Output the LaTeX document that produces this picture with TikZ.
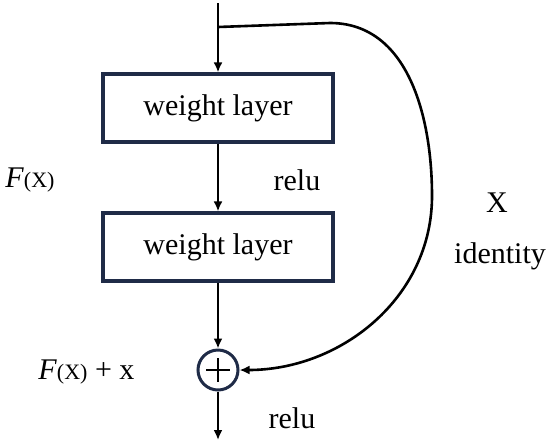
\documentclass[tikz,border=0pt]{standalone}
\usepackage{fontspec}
\setmainfont{Liberation Serif}
\usetikzlibrary{positioning,arrows.meta,calc}

\definecolor{navy}{HTML}{1F2B47}

\begin{document}
\begin{tikzpicture}[
  x=0.5pt, y=-0.5pt,
  >={Latex[length=5pt,width=4.5pt]},
  font=\fontsize{15}{18}\selectfont,
  layer/.style={draw=navy, line width=1.6pt, minimum width=115pt, minimum height=34pt, inner sep=0pt},
  sumnode/.style={draw=navy, line width=1.5pt, circle, minimum size=20pt, inner sep=0pt},
  flow/.style={->, line width=1.3pt},
  lbl/.style={inner sep=0pt}
]
\useasboundingbox (0,0) rectangle (550,445);

\coordinate (top) at (218,3);
\coordinate (split) at (218,27);
\node[layer] (w1) at (218,108) {weight layer};
\node[layer] (w2) at (218,247) {weight layer};
\node[sumnode] (sum) at (218,370) {};
\coordinate (out) at (218,440);

% plus sign in the sum
\draw[line width=1pt] ($(sum.center)+(-12,0)$) -- ($(sum.center)+(12,0)$);
\draw[line width=1pt] ($(sum.center)+(0,-12)$) -- ($(sum.center)+(0,12)$);

\draw[flow] (top) -- (w1);
\draw[flow] (w1) -- (w2);
\draw[flow] (w2) -- (sum);
\draw[flow] (sum) -- (out);
\draw[flow] (split) -- (330,23) to[out=0,in=90] (432,196) to[out=-90,in=0] (sum.east);

\node[lbl, anchor=west] (fx) at (5,180) {\textit{F}{\fontsize{11}{13}\selectfont(X)}};
\node[lbl] (relu1) at (297,180) {relu};
\node[lbl] (xlbl) at (497,203) {X};
\node[lbl] (ident) at (500,256) {identity};
\node[lbl, anchor=west] (fxx) at (38,372) {\textit{F}{\fontsize{11}{13}\selectfont(X)} + x};
\node[lbl] (relu2) at (292,418) {relu};

\end{tikzpicture}
\end{document}
